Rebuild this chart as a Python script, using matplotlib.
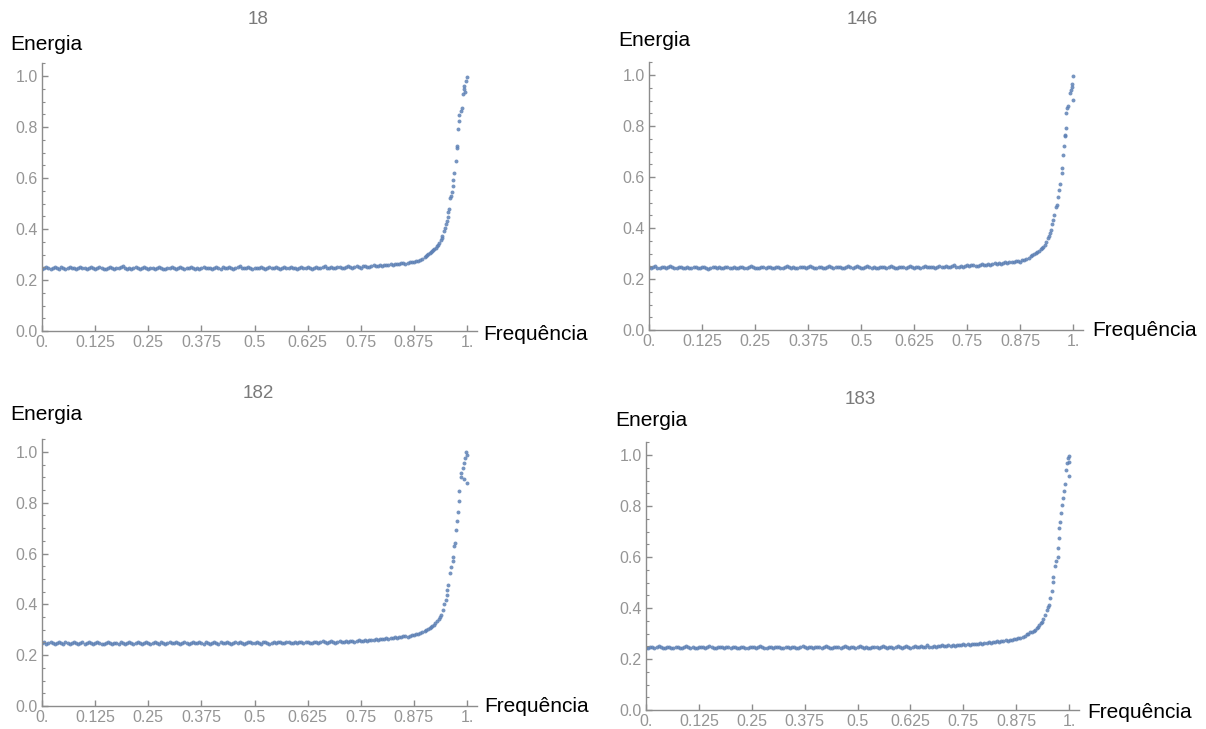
import numpy as np
import matplotlib
matplotlib.use('Agg')
import matplotlib.pyplot as plt
from matplotlib.ticker import MultipleLocator, FixedLocator, FixedFormatter

plt.rcParams['font.family'] = ['Liberation Sans', 'DejaVu Sans']

# Panel titles
titles = ['18', '146', '182', '183']

# Flat part of each curve: energy (x1000) sampled every 0.005 in frequency, from 0 to 0.895
FLAT_STEP = 0.005
flat_18 = [
    244, 247, 250, 246, 243, 249, 252, 247, 245, 250, 248, 244, 247, 251, 249, 246, 243, 248, 250, 246,
    249, 245, 247, 252, 248, 244, 246, 250, 247, 243, 245, 249, 251, 247, 244, 248, 246, 250, 253, 248,
    245, 247, 244, 249, 251, 246, 243, 248, 250, 247, 245, 249, 246, 243, 247, 250, 248, 245, 244, 249,
    247, 250, 246, 244, 248, 251, 247, 243, 246, 249, 252, 248, 245, 247, 244, 248, 250, 246, 249, 247,
    244, 248, 251, 247, 245, 250, 248, 246, 252, 249, 245, 247, 250, 253, 248, 246, 249, 251, 247, 245,
    249, 246, 248, 251, 247, 244, 248, 250, 246, 249, 252, 248, 245, 247, 250, 248, 246, 251, 249, 247,
    245, 249, 252, 248, 246, 250, 247, 244, 248, 251, 249, 246, 250, 253, 249, 247, 251, 248, 246, 250,
    252, 249, 247, 251, 254, 250, 248, 252, 255, 251, 249, 253, 256, 252, 250, 254, 257, 253, 255, 258,
    256, 259, 257, 260, 262, 259, 261, 264, 262, 265, 267, 264, 268, 270, 272, 269, 274, 276, 279, 282,
]
flat_146 = [
    246, 243, 248, 250, 245, 242, 247, 249, 244, 246, 250, 247, 243, 245, 249, 246, 242, 244, 248, 245,
    243, 247, 249, 245, 242, 246, 248, 244, 241, 245, 249, 246, 243, 247, 244, 242, 246, 249, 245, 243,
    247, 244, 242, 246, 249, 245, 243, 247, 250, 246, 244, 242, 245, 248, 246, 243, 247, 249, 245, 242,
    246, 248, 244, 243, 247, 250, 246, 244, 248, 245, 242, 246, 249, 247, 244, 246, 250, 247, 245, 243,
    247, 249, 245, 243, 246, 250, 248, 244, 246, 249, 247, 244, 243, 247, 250, 246, 244, 248, 251, 247,
    245, 243, 247, 250, 246, 244, 248, 245, 243, 247, 249, 246, 244, 248, 251, 247, 245, 243, 247, 249,
    246, 244, 248, 250, 247, 245, 249, 246, 244, 248, 251, 248, 246, 249, 247, 245, 249, 252, 248, 246,
    250, 248, 246, 250, 253, 249, 247, 251, 249, 252, 254, 250, 253, 255, 252, 250, 254, 257, 253, 256,
    258, 255, 259, 261, 258, 262, 260, 263, 265, 262, 266, 268, 265, 269, 271, 268, 273, 275, 278, 282,
]
flat_182 = [
    247, 250, 246, 248, 252, 249, 245, 247, 251, 248, 246, 250, 247, 244, 248, 251, 249, 246, 248, 250,
    246, 249, 251, 247, 245, 248, 250, 247, 243, 246, 249, 252, 248, 246, 249, 247, 245, 250, 248, 246,
    249, 251, 247, 245, 248, 252, 249, 246, 248, 250, 247, 245, 249, 251, 248, 246, 250, 247, 244, 248,
    250, 247, 249, 252, 248, 246, 249, 251, 247, 245, 248, 250, 247, 249, 252, 248, 246, 250, 248, 245,
    249, 251, 248, 246, 250, 247, 249, 252, 248, 246, 249, 251, 247, 250, 248, 246, 249, 253, 250, 247,
    248, 251, 249, 246, 250, 252, 248, 246, 249, 251, 248, 250, 253, 249, 247, 250, 252, 249, 247, 251,
    249, 252, 250, 247, 251, 253, 249, 248, 252, 250, 248, 251, 254, 250, 248, 252, 255, 251, 249, 253,
    255, 251, 253, 256, 252, 254, 257, 253, 256, 258, 255, 257, 260, 256, 259, 261, 258, 262, 260, 263,
    265, 262, 266, 264, 268, 266, 270, 268, 272, 270, 274, 276, 273, 277, 279, 281, 284, 283, 287, 290,
]
flat_183 = [
    245, 242, 247, 249, 244, 246, 250, 246, 243, 245, 249, 247, 244, 242, 246, 249, 245, 243, 247, 250,
    246, 244, 248, 245, 242, 246, 249, 247, 244, 248, 251, 247, 245, 243, 247, 249, 246, 244, 248, 246,
    243, 247, 249, 245, 243, 246, 248, 244, 242, 246, 249, 247, 244, 246, 250, 247, 243, 245, 248, 246,
    244, 247, 249, 246, 243, 245, 249, 247, 244, 246, 248, 245, 243, 247, 250, 246, 244, 248, 246, 243,
    246, 249, 247, 244, 246, 250, 247, 245, 243, 247, 249, 246, 244, 248, 251, 247, 245, 249, 246, 244,
    247, 250, 246, 244, 248, 245, 243, 247, 249, 246, 244, 248, 250, 247, 245, 249, 247, 244, 246, 250,
    248, 245, 249, 251, 247, 245, 249, 252, 248, 246, 250, 247, 249, 253, 249, 247, 251, 248, 252, 250,
    254, 250, 252, 256, 251, 254, 252, 256, 253, 255, 258, 254, 257, 255, 259, 257, 260, 258, 262, 260,
    263, 261, 265, 263, 267, 265, 269, 267, 271, 270, 273, 272, 276, 275, 279, 278, 282, 284, 287, 290,
]

# Steep part (frequency >= 0.9), read point by point
rise_x_18 = [0.900, 0.903, 0.906, 0.909, 0.912, 0.915, 0.918, 0.920, 0.923, 0.926, 0.929, 0.932, 0.935,
             0.938, 0.940, 0.942, 0.945, 0.948, 0.950, 0.952, 0.955, 0.956, 0.958, 0.960, 0.962, 0.965,
             0.968, 0.968, 0.970, 0.973, 0.976, 0.977, 0.979, 0.982, 0.982, 0.985, 0.988, 0.990, 0.992,
             0.993, 0.995, 0.997, 0.999]
rise_y_18 = [0.290, 0.294, 0.298, 0.301, 0.305, 0.308, 0.312, 0.316, 0.320, 0.326, 0.332, 0.338, 0.346,
             0.356, 0.364, 0.374, 0.392, 0.405, 0.418, 0.430, 0.448, 0.468, 0.478, 0.520, 0.528, 0.545,
             0.570, 0.592, 0.618, 0.668, 0.724, 0.716, 0.792, 0.822, 0.848, 0.862, 0.876, 0.930, 0.948,
             0.962, 0.936, 0.980, 0.995]
rise_x_146 = [0.900, 0.904, 0.908, 0.912, 0.916, 0.920, 0.924, 0.927, 0.930, 0.933, 0.937, 0.941, 0.944,
              0.946, 0.948, 0.950, 0.953, 0.956, 0.959, 0.962, 0.964, 0.967, 0.970, 0.973, 0.973, 0.976,
              0.978, 0.980, 0.981, 0.983, 0.983, 0.986, 0.989, 0.993, 0.995, 0.997, 0.998, 1.000, 1.000]
rise_y_146 = [0.291, 0.294, 0.298, 0.302, 0.306, 0.311, 0.316, 0.320, 0.326, 0.334, 0.347, 0.360, 0.370,
              0.379, 0.392, 0.417, 0.431, 0.451, 0.482, 0.490, 0.522, 0.548, 0.573, 0.617, 0.634, 0.686,
              0.720, 0.760, 0.765, 0.793, 0.850, 0.872, 0.880, 0.929, 0.941, 0.953, 0.963, 0.997, 0.902]
rise_x_182 = [0.900, 0.904, 0.908, 0.912, 0.915, 0.918, 0.922, 0.925, 0.929, 0.933, 0.936, 0.939, 0.943,
              0.947, 0.950, 0.952, 0.954, 0.956, 0.960, 0.962, 0.966, 0.968, 0.970, 0.972, 0.974, 0.976,
              0.979, 0.981, 0.980, 0.985, 0.987, 0.990, 0.992, 0.993, 0.995, 0.997, 0.999, 0.999]
rise_y_182 = [0.297, 0.300, 0.304, 0.308, 0.312, 0.315, 0.320, 0.328, 0.335, 0.343, 0.350, 0.359, 0.378,
              0.402, 0.417, 0.437, 0.457, 0.476, 0.522, 0.549, 0.572, 0.588, 0.630, 0.640, 0.693, 0.728,
              0.765, 0.805, 0.848, 0.900, 0.916, 0.936, 0.893, 0.958, 0.978, 0.998, 0.988, 0.879]
rise_x_183 = [0.900, 0.904, 0.908, 0.912, 0.916, 0.920, 0.924, 0.927, 0.930, 0.933, 0.936, 0.939, 0.943,
              0.947, 0.950, 0.952, 0.955, 0.959, 0.963, 0.963, 0.967, 0.970, 0.973, 0.974, 0.976, 0.977,
              0.979, 0.981, 0.983, 0.985, 0.987, 0.991, 0.992, 0.996, 0.997, 1.000, 1.000, 1.000]
rise_y_183 = [0.297, 0.300, 0.304, 0.305, 0.309, 0.314, 0.320, 0.327, 0.333, 0.340, 0.347, 0.356, 0.373,
              0.392, 0.405, 0.412, 0.438, 0.467, 0.503, 0.523, 0.566, 0.585, 0.601, 0.637, 0.673, 0.715,
              0.738, 0.774, 0.805, 0.833, 0.860, 0.885, 0.941, 0.967, 0.987, 0.997, 0.971, 0.919]

flats = [flat_18, flat_146, flat_182, flat_183]
rises_x = [rise_x_18, rise_x_146, rise_x_182, rise_x_183]
rises_y = [rise_y_18, rise_y_146, rise_y_182, rise_y_183]

x_ticks = [0, 0.125, 0.25, 0.375, 0.5, 0.625, 0.75, 0.875, 1.0]
x_tick_labels = ['0.', '0.125', '0.25', '0.375', '0.5', '0.625', '0.75', '0.875', '1.']

W, H = 1206, 729
fig = plt.figure(figsize=(W / 100, H / 100), dpi=100)

# axes boxes in pixels: left, bottom(y from top), width, height
boxes = [(42, 331, 435, 268), (649, 330, 434, 268), (42, 706, 435, 267), (646, 710, 433, 268)]
energia_pos = [(10, 45), (618, 40), (10, 414), (615, 420)]
freq_pos = [(483, 334), (1092, 331), (484, 707), (1087, 713)]
title_pos = [(258, 20), (862, 20), (258, 393), (860, 400)]

point_color = '#5e81b5'
axis_color = '#8c8c8c'
label_color = '#959595'

for i in range(4):
    l, b, w, h = boxes[i]
    ax = fig.add_axes([l / W, (H - b) / H, w / W, h / H])
    fx = np.arange(len(flats[i])) * FLAT_STEP
    fy = np.array(flats[i]) / 1000
    ax.scatter(fx, fy, s=8, color=point_color, linewidths=0, alpha=0.85)
    ax.scatter(rises_x[i], rises_y[i], s=8, color=point_color, linewidths=0, alpha=0.85)

    ax.set_xlim(0, 1.0235)
    ax.set_ylim(0, 1.051)
    for side in ['top', 'right']:
        ax.spines[side].set_visible(False)
    for side in ['left', 'bottom']:
        ax.spines[side].set_color(axis_color)
        ax.spines[side].set_linewidth(1.0)

    ax.xaxis.set_major_locator(FixedLocator(x_ticks))
    ax.xaxis.set_major_formatter(FixedFormatter(x_tick_labels))
    ax.yaxis.set_major_locator(MultipleLocator(0.2))
    ax.yaxis.set_minor_locator(MultipleLocator(0.05))
    ax.yaxis.set_major_formatter(plt.FuncFormatter(lambda v, p: f'{v:.1f}'))
    ax.tick_params(axis='both', which='major', direction='in', length=4, width=1,
                   color=axis_color, labelcolor=label_color, labelsize=11.5, pad=3)
    ax.tick_params(axis='y', which='minor', direction='in', length=2.5, width=0.8, color=axis_color)
    ax.patch.set_alpha(0)

    ex, ey = energia_pos[i]
    fig.text(ex / W, 1 - ey / H, 'Energia', fontsize=15, color='black', ha='left', va='center')
    qx, qy = freq_pos[i]
    fig.text(qx / W, 1 - qy / H, 'Frequência', fontsize=15, color='black', ha='left', va='center')
    tx, ty = title_pos[i]
    fig.text(tx / W, 1 - ty / H, titles[i], fontsize=13.5, color='#7a7a7a', ha='center', va='center')

fig.savefig('out.png', dpi=100)
